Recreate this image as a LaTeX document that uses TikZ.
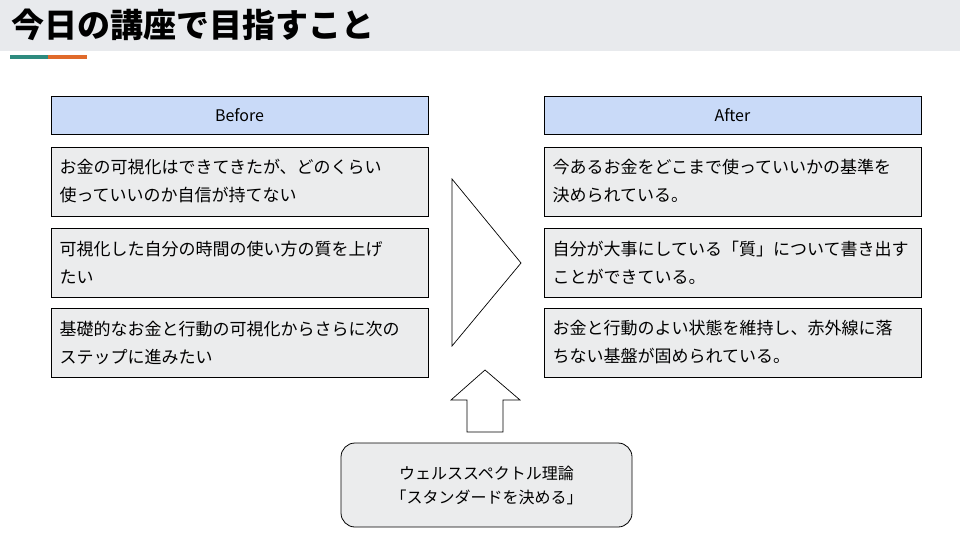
\documentclass[tikz,border=0pt]{standalone}
\usepackage{fontspec}
\setmainfont{Noto Sans CJK JP}
\usetikzlibrary{positioning}
\definecolor{bandgray}{HTML}{E8EAED}
\definecolor{boxgray}{HTML}{EBECED}
\definecolor{headblue}{HTML}{C9DAF8}
\definecolor{tealc}{HTML}{2E8B7F}
\definecolor{orangec}{HTML}{E06A2B}
\tikzset{
  hbox/.style={draw=black,fill=headblue,minimum width=377pt,minimum height=38pt,
    font=\fontsize{16}{18}\selectfont,inner sep=0pt},
  tbox/.style={draw=black,fill=boxgray,minimum width=377pt,minimum height=69pt,
    text width=360pt,align=left,inner sep=0pt,font=\fontsize{17}{28}\selectfont},
}
\begin{document}
\begin{tikzpicture}[x=1pt,y=-1pt,line width=0.8pt]
  \useasboundingbox (0,0) rectangle (960,540);
  \fill[bandgray] (0,0) rectangle (960,51);
  \node[anchor=west,font=\fontsize{33}{36}\selectfont\bfseries] (title) at (8,25) {今日の講座で目指すこと};
  \fill[tealc] (10,55) rectangle (48,59);
  \fill[orangec] (48,55) rectangle (87,59);
  % before
  \node[hbox] (bh) at (239.5,115) {Before};
  \node[tbox] (b1) at (239.5,181.5) {お金の可視化はできてきたが、どのくらい\\使っていいのか自信が持てない};
  \node[tbox] (b2) at (239.5,262.5) {可視化した自分の時間の使い方の質を上げ\\たい};
  \node[tbox] (b3) at (239.5,342.5) {基礎的なお金と行動の可視化からさらに次の\\ステップに進みたい};
  % after
  \node[hbox] (ah) at (732.5,115) {After};
  \node[tbox] (a1) at (732.5,181.5) {今あるお金をどこまで使っていいかの基準を\\決められている。};
  \node[tbox] (a2) at (732.5,262.5) {自分が大事にしている「質」について書き出す\\ことができている。};
  \node[tbox] (a3) at (732.5,342.5) {お金と行動のよい状態を維持し、赤外線に落\\ちない基盤が固められている。};
  % arrows
  \draw[line width=0.7pt] (452,179) -- (521,263) -- (452,346) -- cycle;
  \draw[line width=0.7pt] (485,370) -- (520,400) -- (503,400) -- (503,432) -- (467,432) -- (467,400) -- (451,400) -- cycle;
  \node[draw=black,fill=boxgray,rounded corners=14pt,minimum width=291pt,minimum height=84pt,
    align=center,font=\fontsize{16}{24}\selectfont] (theory) at (486.5,485) {ウェルススペクトル理論\\「スタンダードを決める」};
\end{tikzpicture}
\end{document}
